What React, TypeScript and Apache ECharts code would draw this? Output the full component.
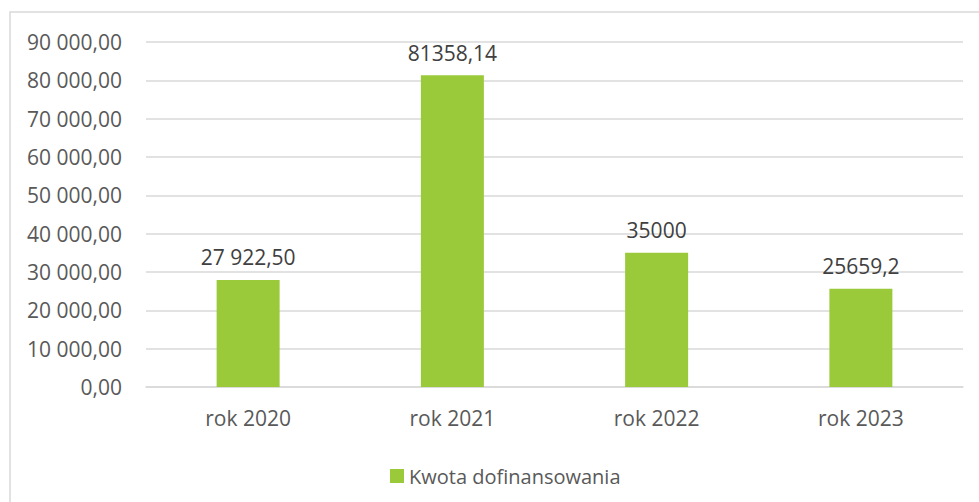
import React, { useEffect, useRef } from "react";
import * as echarts from "echarts";

const categories = ["rok 2020", "rok 2021", "rok 2022", "rok 2023"];
const values = [27922.5, 81358.14, 35000, 25659.2];
const valueLabels = ["27 922,50", "81358,14", "35000", "25659,2"];
const seriesName = "Kwota dofinansowania";
const yMax = 90000;
const yInterval = 10000;

function formatTick(v: number): string {
  const s = Math.round(v).toString().replace(/\B(?=(\d{3})+(?!\d))/g, " ");
  return s + ",00";
}

export default function App() {
  const ref = useRef<HTMLDivElement>(null);
  useEffect(() => {
    if (!ref.current) return;
    const chart = echarts.init(ref.current, undefined, { renderer: "svg" });
    const font = "'Open Sans', sans-serif";
    chart.setOption({
      animation: false,
      backgroundColor: "#ffffff",
      graphic: [
        {
          type: "rect",
          shape: { x: 10, y: 12, width: 990, height: 520 },
          style: { fill: "none", stroke: "#d9d9d9", lineWidth: 1.5 },
          silent: true,
        },
      ],
      grid: { left: 146, right: 16, top: 42, bottom: 115, containLabel: false },
      legend: {
        data: [seriesName],
        left: 385,
        top: 461,
        itemWidth: 14,
        itemHeight: 14,
        itemGap: 10,
        icon: "rect",
        textStyle: { color: "#595959", fontSize: 20, fontFamily: font },
      },
      xAxis: {
        type: "category",
        data: categories,
        axisLine: { show: true, lineStyle: { color: "#d9d9d9", width: 1.5 } },
        axisTick: { show: false },
        axisLabel: { color: "#595959", fontSize: 21, fontFamily: font, margin: 20 },
      },
      yAxis: {
        type: "value",
        min: 0,
        max: yMax,
        interval: yInterval,
        axisLine: { show: false },
        axisTick: { show: false },
        splitLine: { lineStyle: { color: "#d9d9d9", width: 1.5 } },
        axisLabel: {
          color: "#595959",
          fontSize: 21,
          fontFamily: font,
          margin: 24,
          formatter: (v: number) => formatTick(v),
        },
      },
      series: [
        {
          name: seriesName,
          type: "bar",
          data: values,
          barWidth: 63,
          itemStyle: { color: "#9aca3a" },
          label: {
            show: true,
            position: "top",
            distance: 12,
            color: "#404040",
            fontSize: 21,
            fontFamily: font,
            formatter: (p: any) => valueLabels[p.dataIndex],
          },
        },
      ],
    });
    return () => chart.dispose();
  }, []);
  return (
    <div
      ref={ref}
      style={{ position: "fixed", left: 0, top: 0, width: 979, height: 502, background: "#fff" }}
    />
  );
}
